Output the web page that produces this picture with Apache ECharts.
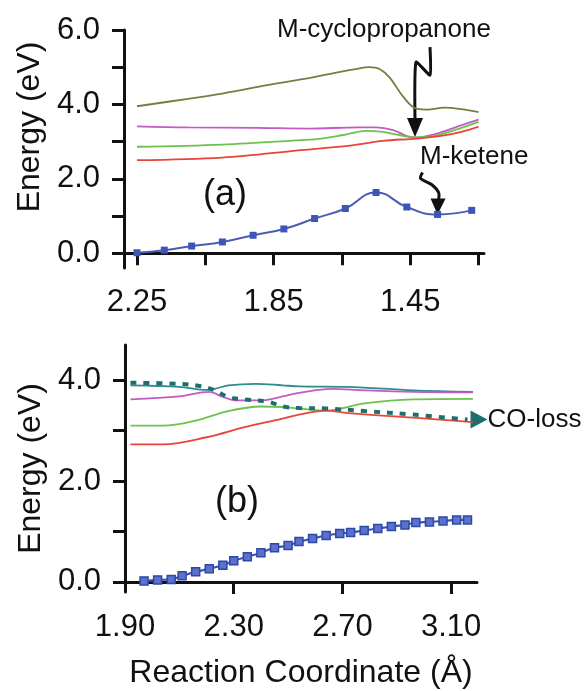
<!DOCTYPE html>
<html>
<head>
<meta charset="utf-8">
<script src="https://cdn.jsdelivr.net/npm/echarts@6/dist/echarts.min.js"></script>
<style>
html,body{margin:0;padding:0;background:#fff;}
#c{width:585px;height:691px;}
</style>
</head>
<body>
<div id="c"></div>
<script>
// ---------- Panel (a) data ----------
const aBlueX = [2.25, 2.17, 2.09, 2.00, 1.91, 1.82, 1.73, 1.64, 1.55, 1.46, 1.37, 1.27];
const aBlueY = [0.01, 0.08, 0.19, 0.30, 0.48, 0.65, 0.93, 1.20, 1.63, 1.24, 1.04, 1.15];
const aOliveX = [2.25, 2.10, 2.00, 1.86, 1.77, 1.68, 1.61, 1.57, 1.54, 1.51, 1.47, 1.43, 1.40, 1.35, 1.30, 1.25];
const aOliveY = [3.95, 4.15, 4.29, 4.53, 4.67, 4.83, 4.95, 5.00, 4.95, 4.72, 4.20, 3.88, 3.86, 3.91, 3.87, 3.79];
const aMagX = [2.25, 2.10, 1.90, 1.75, 1.60, 1.55, 1.50, 1.46, 1.43, 1.37, 1.31, 1.25];
const aMagY = [3.41, 3.38, 3.37, 3.35, 3.38, 3.38, 3.31, 3.15, 3.11, 3.22, 3.41, 3.59];
const aGreenX = [2.25, 2.00, 1.77, 1.71, 1.65, 1.58, 1.53, 1.48, 1.44, 1.38, 1.32, 1.25];
const aGreenY = [2.86, 2.92, 3.04, 3.08, 3.17, 3.29, 3.26, 3.17, 3.11, 3.15, 3.31, 3.53];
const aRedX = [2.25, 2.00, 1.77, 1.62, 1.53, 1.43, 1.36, 1.30, 1.25];
const aRedY = [2.50, 2.57, 2.77, 2.90, 3.02, 3.08, 3.15, 3.26, 3.40];
const aXTicks = [2.25, 2.05, 1.85, 1.65, 1.45, 1.25];
const aXLabels = [2.25, 1.85, 1.45];
const aYTicks = [0, 1, 2, 3, 4, 5, 6];
const aYLabels = [0, 2, 4, 6];

// ---------- Panel (b) data ----------
const bBlueX = [1.97, 2.02, 2.07, 2.11, 2.16, 2.21, 2.26, 2.30, 2.35, 2.40, 2.45, 2.50, 2.54, 2.59, 2.64, 2.69, 2.73, 2.78, 2.83, 2.88, 2.93, 2.97, 3.02, 3.07, 3.12, 3.16];
const bBlueY = [0.02, 0.04, 0.05, 0.12, 0.20, 0.26, 0.33, 0.42, 0.50, 0.58, 0.68, 0.72, 0.80, 0.86, 0.92, 0.96, 0.98, 1.02, 1.06, 1.10, 1.13, 1.18, 1.19, 1.21, 1.23, 1.23];
const bTealX = [1.92, 2.10, 2.20, 2.23, 2.28, 2.38, 2.48, 2.54, 2.72, 2.96, 3.18];
const bTealY = [3.90, 3.87, 3.81, 3.83, 3.90, 3.93, 3.90, 3.88, 3.87, 3.80, 3.77];
const bMagX = [1.92, 2.10, 2.21, 2.26, 2.31, 2.40, 2.48, 2.54, 2.66, 2.78, 2.96, 3.18];
const bMagY = [3.62, 3.68, 3.77, 3.67, 3.60, 3.60, 3.68, 3.75, 3.83, 3.80, 3.77, 3.76];
const bGreenX = [1.92, 2.04, 2.16, 2.28, 2.40, 2.48, 2.54, 2.64, 2.78, 2.96, 3.18];
const bGreenY = [3.10, 3.10, 3.20, 3.39, 3.48, 3.47, 3.44, 3.40, 3.54, 3.62, 3.63];
const bRedX = [1.92, 2.04, 2.20, 2.34, 2.48, 2.54, 2.64, 2.72, 2.96, 3.18];
const bRedY = [2.73, 2.73, 2.87, 3.07, 3.24, 3.32, 3.40, 3.35, 3.26, 3.17];
const bCOX = [1.92, 2.10, 2.18, 2.23, 2.28, 2.34, 2.43, 2.48, 2.54, 2.64, 2.78, 2.96, 3.16];
const bCOY = [3.95, 3.93, 3.88, 3.80, 3.67, 3.62, 3.57, 3.48, 3.45, 3.44, 3.39, 3.32, 3.22];
const bXTicks = [2.30, 2.70, 3.10];
const bXLabels = [1.90, 2.30, 2.70, 3.10];
const bYTicks = [0, 1, 2, 3, 4];
const bYLabels = [0, 2, 4];

const FONT = '"Liberation Sans", Arial, Helvetica, sans-serif';
const INK = '#111';
const zip = (xs, ys) => xs.map((x, i) => [x, ys[i]]);

function axisCommon() {
  return {
    axisLine: { show: true, lineStyle: { color: INK, width: 3 } },
    axisTick: { show: true, length: 12, lineStyle: { color: INK, width: 3 } },
    splitLine: { show: false },
    axisLabel: { color: INK, fontSize: 31, fontFamily: FONT }
  };
}

function lineSeries(name, data, color, xi, extra) {
  return Object.assign({
    name: name, type: 'line', xAxisIndex: xi, yAxisIndex: xi,
    data: data, symbol: 'none', smooth: 0.35,
    lineStyle: { color: color, width: 1.8 }, z: 2
  }, extra || {});
}

const chart = echarts.init(document.getElementById('c'), null, { renderer: 'canvas' });

const base = axisCommon();
const option = {
  backgroundColor: '#fff',
  animation: false,
  grid: [
    { left: 124, top: 30, width: 360, height: 238 },
    { left: 125, top: 345, width: 352, height: 247 }
  ],
  xAxis: [
    Object.assign({}, base, {
      type: 'value', gridIndex: 0, inverse: true, min: 1.234, max: 2.288,
      axisTick: Object.assign({}, base.axisTick, { customValues: aXTicks }),
      axisLabel: Object.assign({}, base.axisLabel, { customValues: aXLabels, margin: 19, formatter: v => v.toFixed(2) })
    }),
    Object.assign({}, base, {
      type: 'value', gridIndex: 1, min: 1.90, max: 3.195,
      axisTick: Object.assign({}, base.axisTick, { customValues: bXTicks }),
      axisLabel: Object.assign({}, base.axisLabel, { customValues: bXLabels, margin: 20, formatter: v => v.toFixed(2) }),
      name: 'Reaction Coordinate (Å)', nameLocation: 'middle', nameGap: 65,
      nameTextStyle: { color: INK, fontSize: 32, fontFamily: FONT }
    })
  ],
  yAxis: [
    Object.assign({}, base, {
      type: 'value', gridIndex: 0, min: -0.4, max: 6.0,
      axisTick: Object.assign({}, base.axisTick, { customValues: aYTicks }),
      axisLabel: Object.assign({}, base.axisLabel, { customValues: aYLabels, margin: 24, formatter: v => v.toFixed(1) }),
      name: 'Energy (eV)', nameLocation: 'middle', nameGap: 74, nameRotate: 90,
      nameTextStyle: { color: INK, fontSize: 32, fontFamily: FONT, padding: [0, 0, 0, 44] }
    }),
    Object.assign({}, base, {
      type: 'value', gridIndex: 1, min: -0.2, max: 4.7,
      axisTick: Object.assign({}, base.axisTick, { customValues: bYTicks }),
      axisLabel: Object.assign({}, base.axisLabel, { customValues: bYLabels, margin: 24, formatter: v => v.toFixed(1) }),
      name: 'Energy (eV)', nameLocation: 'middle', nameGap: 75, nameRotate: 90,
      nameTextStyle: { color: INK, fontSize: 32, fontFamily: FONT }
    })
  ],
  series: [
    lineSeries('a-olive', zip(aOliveX, aOliveY), '#7b7b40', 0, { smooth: 0.4 }),
    lineSeries('a-magenta', zip(aMagX, aMagY), '#c25cc4', 0),
    lineSeries('a-green', zip(aGreenX, aGreenY), '#6cc24a', 0),
    lineSeries('a-red', zip(aRedX, aRedY), '#e8443a', 0),
    lineSeries('a-ground', zip(aBlueX, aBlueY), '#3d52b0', 0, {
      symbol: 'rect', symbolSize: 7, smooth: 0.5,
      itemStyle: { color: '#3d55b8' }, lineStyle: { color: '#4a5cb4', width: 2 }, z: 3
    }),
    lineSeries('b-teal', zip(bTealX, bTealY), '#2e8c8c', 1),
    lineSeries('b-magenta', zip(bMagX, bMagY), '#c25cc4', 1),
    lineSeries('b-green', zip(bGreenX, bGreenY), '#6cc24a', 1),
    lineSeries('b-red', zip(bRedX, bRedY), '#e8443a', 1),
    lineSeries('b-COloss', zip(bCOX, bCOY), '#1d6f6f', 1, {
      lineStyle: { color: '#1d6f6f', width: 4, type: [6, 7] }, z: 4
    }),
    lineSeries('b-ground', zip(bBlueX, bBlueY), '#3d52b0', 1, {
      symbol: 'rect', symbolSize: 8, smooth: 0.3,
      itemStyle: { color: '#5b72cc', borderColor: '#2f47a6', borderWidth: 1.5 },
      lineStyle: { color: '#3d52b0', width: 2.2 }, z: 3
    })
  ]
};
chart.setOption(option);

// ---------- annotations, anchored to data points ----------
const P = (g, pt) => chart.convertToPixel({ gridIndex: g }, pt);
const tipA = P(0, [1.436, 3.12]);
const tipK = P(0, [aBlueX[10], aBlueY[10]]);
const coEnd = P(1, [bCOX[bCOX.length - 1], bCOY[bCOY.length - 1]]);
const off = (p, dx, dy) => [p[0] + dx, p[1] + dy];

const graphics = [
  { type: 'text', left: 277, top: 17, style: { text: 'M-cyclopropanone', font: '26px ' + FONT, fill: INK } },
  { type: 'polyline', shape: { points: [off(tipA, 15, -90), off(tipA, 15, -62), off(tipA, 1, -75), off(tipA, 0, -17)], smooth: 0.15 },
    style: { stroke: INK, lineWidth: 3, fill: null } },
  { type: 'polygon', shape: { points: [off(tipA, -8, -19), off(tipA, 8, -19), off(tipA, 0, 0)] }, style: { fill: INK } },
  { type: 'text', left: 420, top: 144, style: { text: 'M-ketene', font: '26px ' + FONT, fill: INK } },
  { type: 'polyline', shape: { points: [off(tipK, -15, -42), off(tipK, -17, -36), off(tipK, -6, -30), off(tipK, 1, -22), off(tipK, 1, -14)], smooth: 0.3 },
    style: { stroke: INK, lineWidth: 3, fill: null } },
  { type: 'polygon', shape: { points: [off(tipK, -7, -16), off(tipK, 8, -16), off(tipK, 0, 0)] }, style: { fill: INK } },
  { type: 'polygon', shape: { points: [off(coEnd, 3, -9), off(coEnd, 3, 9), off(coEnd, 20, 0)] }, style: { fill: '#1d6f6f' } },
  { type: 'text', x: coEnd[0] + 20, y: coEnd[1], style: { text: 'CO-loss', font: '26px ' + FONT, fill: INK, verticalAlign: 'middle' } },
  { type: 'text', x: 225, y: 195, style: { text: '(a)', font: '36px ' + FONT, fill: INK, align: 'center', verticalAlign: 'middle' } },
  { type: 'text', x: 237, y: 502, style: { text: '(b)', font: '36px ' + FONT, fill: INK, align: 'center', verticalAlign: 'middle' } }
];
chart.setOption({ graphic: graphics });
</script>
</body>
</html>
